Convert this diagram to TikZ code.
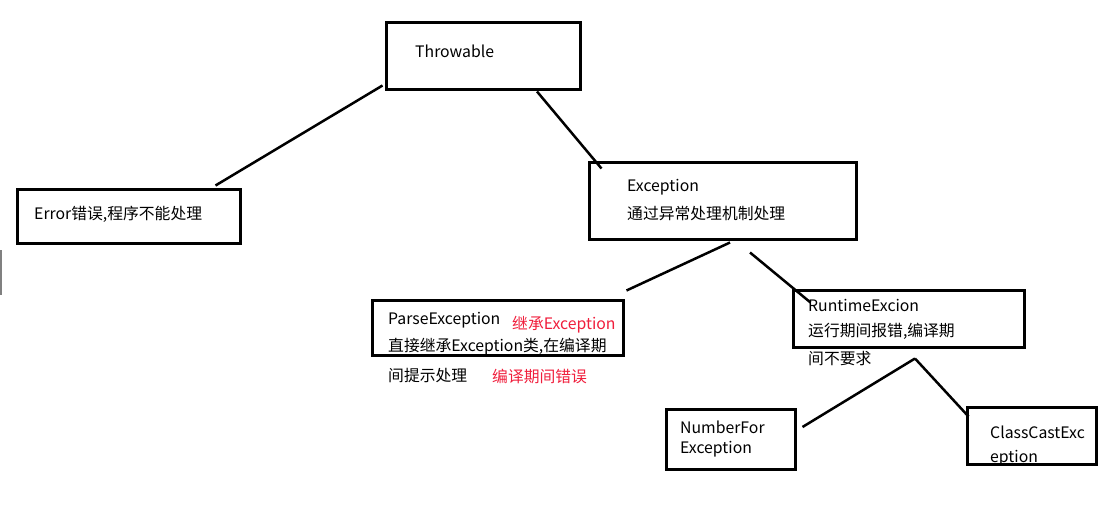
\documentclass[tikz,border=0pt]{standalone}
\usepackage{fontspec}
\setmainfont{Noto Sans CJK SC}
\usepackage{xcolor}
\definecolor{notered}{RGB}{240,30,60}
\tikzset{
  box/.style={draw=black, line width=3pt, inner sep=0pt},
  txt/.style={anchor=west, inner sep=0pt, font=\fontsize{15.8}{18}\selectfont},
  link/.style={black, line width=2.5pt}
}

\begin{document}
\begin{tikzpicture}[x=1pt,y=-1pt]
        \useasboundingbox (0,0) rectangle (1104,530);
        % boxes
        \node[box, minimum width=194, minimum height=67] (thr) at (483,55.5) {};
        \node[box, minimum width=223, minimum height=54] (err) at (128.5,216) {};
        \node[box, minimum width=267, minimum height=77] (exc) at (722.5,200.5) {};
        \node[box, minimum width=251, minimum height=55] (par) at (497.5,327.5) {};
        \node[box, minimum width=231, minimum height=57] (run) at (908.5,318.5) {};
        \node[box, minimum width=129, minimum height=60] (num) at (730.5,439) {};
        \node[box, minimum width=129, minimum height=57] (cls) at (1031.5,435.5) {};
        % texts
        \node[txt] (thrT) at (415,51) {Throwable};
        \node[txt] (errT) at (34,214) {Error错误,程序不能处理};
        \node[txt] (excT) at (627,187) {Exception};
        \node[txt] (excD) at (627,214) {通过异常处理机制处理};
        \node[txt] (parT) at (388,320) {ParseException};
        \node[txt, notered] (parN) at (512,325) {继承Exception};
        \node[txt] (parD) at (388,347) {直接继承Exception类,在编译期};
        \node[txt] (parE) at (388,376) {间提示处理};
        \node[txt, notered] (parR) at (492,376) {编译期间错误};
        \node[txt] (runT) at (808,305) {RuntimeExcion};
        \node[txt] (runD) at (808,331) {运行期间报错,编译期};
        \node[txt] (runE) at (808,359) {间不要求};
        \node[txt] (numT) at (680,427) {NumberFor};
        \node[txt] (numE) at (680,449) {Exception};
        \node[txt] (clsT) at (990,432) {ClassCastExc};
        \node[txt] (clsE) at (990,458) {eption};
        % lines
        \coordinate (apex) at ([shift={(6.5,10)}]run.south);
        \draw[link] ([shift={(-2,-5)}]thr.south west) -- ([shift={(-26,-2)}]err.north east);
        \draw[link] ([shift={(54,1)}]thr.south) -- ([shift={(14,8)}]exc.north west);
        \draw[link] ([shift={(7.5,2)}]exc.south) -- ([shift={(2,-8)}]par.north east);
        \draw[link] ([shift={(27.5,12)}]exc.south) -- ([shift={(19,14)}]run.north west);
        \draw[link] (apex) -- ([shift={(6,-12)}]num.east);
        \draw[link] (apex) -- ([shift={(3,11)}]cls.north west);
        % stray mark
        \draw[gray, line width=1.5pt] (0.75,250) -- (0.75,295);
    \end{tikzpicture}
\end{document}
